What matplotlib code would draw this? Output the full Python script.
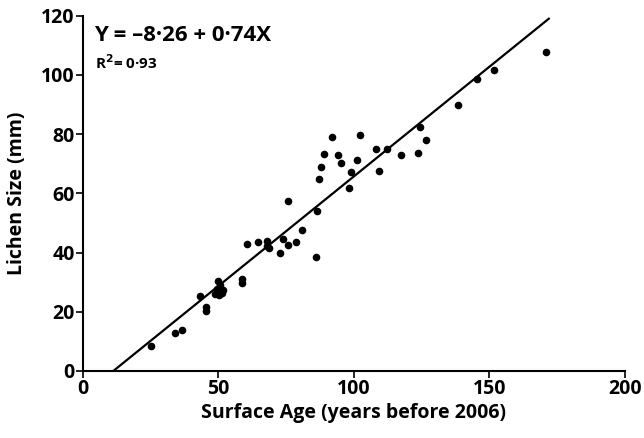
import numpy as np
import matplotlib
matplotlib.use("Agg")
import matplotlib.pyplot as plt

# surface age (years before 2006) and lichen size (mm)
age = [25.1, 34.1, 36.5, 43.3, 45.5, 45.5, 48.7, 49.9, 50.6, 50.3, 51.3, 51.8,
       49.5, 58.6, 58.6, 60.7, 64.7, 67.8, 68.0, 68.6, 72.7, 73.7, 75.6, 75.5,
       78.7, 80.9, 86.2, 86.1, 87.2, 87.7, 89.1, 92.0, 94.0, 95.2, 98.2, 99.0,
       101.2, 102.2, 108.1, 109.2, 112.3, 117.3, 123.6, 124.4, 126.7, 138.6,
       145.6, 151.8, 170.8]
size = [8.5, 12.9, 13.7, 25.4, 21.5, 20.4, 26.1, 30.5, 29.2, 25.8, 26.3, 27.2,
        27.8, 31.1, 29.7, 43.0, 43.6, 43.8, 42.1, 41.6, 39.7, 44.6, 42.7, 57.5,
        43.7, 47.5, 54.1, 38.6, 64.8, 69.0, 73.4, 79.0, 72.9, 70.2, 61.7, 67.2,
        71.3, 79.8, 75.0, 67.6, 74.9, 72.9, 73.7, 82.5, 77.9, 89.9,
        98.8, 101.8, 107.7]

intercept = -8.26
slope = 0.74
r2 = 0.93
x_ticks = [0, 50, 100, 150, 200]
y_ticks = [0, 20, 40, 60, 80, 100, 120]

plt.rcParams['font.family'] = ['Open Sans', 'DejaVu Sans']
plt.rcParams['font.weight'] = 'bold'

fig = plt.figure(figsize=(6.44, 4.38), dpi=100)
ax = fig.add_axes([0.129, 0.153, 0.841, 0.811])

ax.scatter(age, size, s=20, color='black', zorder=3)

x0 = -intercept / slope
x1 = (119 - intercept) / slope
xs = np.array([x0, x1])
ax.plot(xs, intercept + slope * xs, color='black', lw=1.6)

ax.set_xlim(0, 200)
ax.set_ylim(0, 120)
ax.set_xticks(x_ticks)
ax.set_yticks(y_ticks)
for s in ['top', 'right']:
    ax.spines[s].set_visible(False)
for s in ['left', 'bottom']:
    ax.spines[s].set_linewidth(1.5)
ax.tick_params(width=1.2, length=5, labelsize=14, pad=1)
for lab in ax.get_xticklabels() + ax.get_yticklabels():
    lab.set_fontweight('bold')

ax.set_xlabel('Surface Age (years before 2006)', fontsize=14, fontweight='bold', labelpad=3)
ax.set_ylabel('Lichen Size (mm)', fontsize=14, fontweight='bold', labelpad=10)

ax.text(0.02, 0.975, 'Y = \u20138\u00b726 + 0\u00b774X', transform=ax.transAxes,
        fontsize=16, fontweight='bold', va='top')
ax.text(0.022, 0.895, 'R$^{\\mathbf{2}}$= 0\u00b793', transform=ax.transAxes,
        fontsize=11, fontweight='bold', va='top')

fig.savefig('out.png', dpi=100)
